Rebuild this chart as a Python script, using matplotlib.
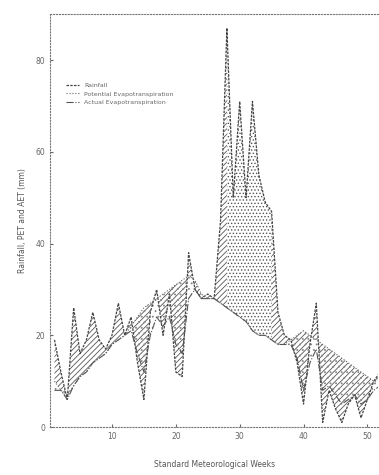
import numpy as np
import matplotlib.pyplot as plt

weeks = np.arange(1, 53)

rainfall = np.array([19, 12, 6, 26, 16, 19, 25, 19, 17, 20,
                     27, 20, 24, 14, 6, 25, 30, 20, 29, 12,
                     11, 38, 30, 28, 29, 28, 45, 87, 50, 71,
                     50, 71, 55, 49, 47, 25, 20, 19, 14, 5,
                     18, 27, 1, 8, 4, 1, 5, 7, 2, 6,
                     10, 12])

pet = np.array([10, 8, 7, 9, 11, 12, 14, 15, 16, 18,
                19, 20, 22, 24, 26, 27, 28, 29, 30, 31,
                32, 33, 32, 29, 28, 28, 27, 26, 25, 24,
                23, 21, 20, 20, 19, 18, 18, 19, 20, 21,
                20, 19, 18, 17, 16, 15, 14, 13, 12, 11,
                10, 10])

aet = np.array([8, 8, 6, 9, 11, 12, 14, 15, 16, 18,
                19, 20, 21, 16, 12, 20, 24, 22, 24, 18,
                16, 28, 30, 28, 28, 28, 27, 26, 25, 24,
                23, 21, 20, 20, 19, 18, 18, 18, 15, 8,
                14, 17, 8, 9, 7, 5, 6, 7, 5, 6,
                8, 9])

plt.rcParams['hatch.linewidth'] = 0.6

fig = plt.figure(figsize=(3.79, 4.75), dpi=100)
ax = fig.add_axes([0.132, 0.101, 0.866, 0.869])

# deficit / surplus shading
ax.fill_between(weeks, rainfall, pet, facecolor='none', edgecolor='#555555',
                linewidth=0, hatch='//////')
ax.fill_between(weeks, rainfall, pet, where=(rainfall - pet > 22), facecolor='white',
                edgecolor='#555555', linewidth=0, hatch='.....')
ax.fill_between(weeks, aet, pet, facecolor='none', edgecolor='#888888',
                linewidth=0, hatch='...')

ax.plot(weeks, rainfall, color='#444444', lw=0.9, ls=(0, (2, 1)), label='Rainfall')
ax.plot(weeks, pet, color='#666666', lw=0.8, ls=':', label='Potential Evapotranspiration')
ax.plot(weeks, aet, color='#555555', lw=0.8, ls='-.', label='Actual Evapotranspiration')

ax.set_xlim(0.3, 51.7)
ax.set_ylim(0, 90)
ax.set_xticks([10, 20, 30, 40, 50])
ax.set_yticks([0, 20, 40, 60, 80])
ax.tick_params(labelsize=5.5, colors='#666666', length=2, direction='in')

for s in ['top', 'left', 'bottom']:
    ax.spines[s].set_linestyle(':')
    ax.spines[s].set_color('#777777')
    ax.spines[s].set_linewidth(0.8)
ax.spines['right'].set_visible(False)

ax.set_xlabel('Standard Meteorological Weeks', fontsize=5.5, color='#555555', labelpad=14)
ax.set_ylabel('Rainfall, PET and AET (mm)', fontsize=5.5, color='#555555', labelpad=6)

ax.legend(loc='upper left', bbox_to_anchor=(0.04, 0.84), frameon=False, fontsize=4.5,
          handlelength=2.2, labelcolor='#666666', borderaxespad=0)

fig.savefig('out.png', dpi=100)
